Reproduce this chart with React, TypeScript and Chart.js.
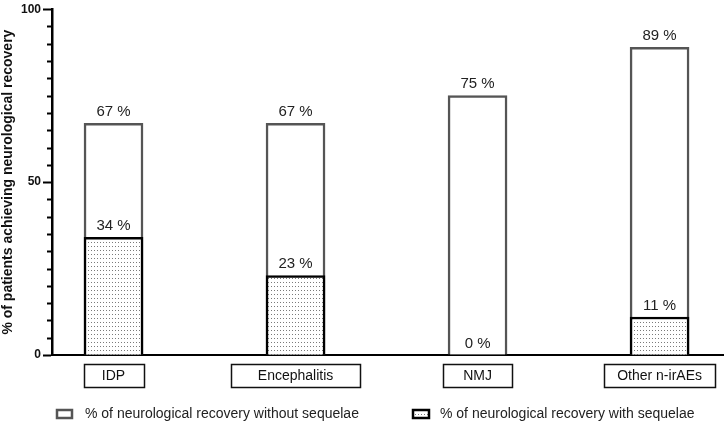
import React, { useEffect, useRef } from "react";
import { Chart, registerables } from "chart.js";

Chart.register(...registerables);

const categories = ["IDP", "Encephalitis", "NMJ", "Other n-irAEs"];
const recoveryTotal = [67, 67, 75, 89];
const recoveryWithSequelae = [34, 23, 0, 11];
const yTickLabels = [0, 50, 100];
const legendLabels = [
  "% of neurological recovery without sequelae",
  "% of neurological recovery with sequelae",
];
const yTitle = "% of patients achieving neurological recovery";

// styling constants
const FONT = "'Liberation Sans', Arial, sans-serif";
const categoryBoxWidths = [60, 129, 69, 111];
const legendItemX = [57, 413];

function makeDotPattern(ctx: CanvasRenderingContext2D) {
  const c = document.createElement("canvas");
  c.width = 3;
  c.height = 4;
  const g = c.getContext("2d")!;
  g.fillStyle = "#ffffff";
  g.fillRect(0, 0, 3, 4);
  g.fillStyle = "#7a7a7a";
  g.fillRect(1, 2, 1, 1);
  return ctx.createPattern(c, "repeat")!;
}

export default function App() {
  const ref = useRef<HTMLCanvasElement | null>(null);

  useEffect(() => {
    const canvas = ref.current!;
    const ctx = canvas.getContext("2d")!;
    const dots = makeDotPattern(ctx);

    const overlayPlugin = {
      id: "overlay",
      afterDatasetsDraw(chart: any) {
        const c = chart.ctx as CanvasRenderingContext2D;
        const xs = chart.scales.x;
        const ys = chart.scales.y;
        const area = chart.chartArea;
        c.save();
        // minor ticks
        c.strokeStyle = "#000";
        c.lineWidth = 2;
        for (let v = 0; v <= 100; v += 5) {
          if (yTickLabels.includes(v)) continue;
          const y = Math.round(ys.getPixelForValue(v)) + 0.5;
          c.beginPath();
          c.moveTo(area.left - 5, y);
          c.lineTo(area.left, y);
          c.stroke();
        }
        // value labels
        c.font = `15px ${FONT}`;
        c.fillStyle = "#222";
        c.textAlign = "center";
        c.textBaseline = "bottom";
        categories.forEach((_, i) => {
          const x = xs.getPixelForValue(i);
          c.fillText(`${recoveryTotal[i]} %`, x, ys.getPixelForValue(recoveryTotal[i]) - 4);
          c.fillText(
            `${recoveryWithSequelae[i]} %`,
            x,
            ys.getPixelForValue(recoveryWithSequelae[i]) - 4
          );
        });
        // category boxes
        c.font = `14px ${FONT}`;
        c.textBaseline = "middle";
        c.fillStyle = "#111";
        c.strokeStyle = "#111";
        c.lineWidth = 1.5;
        categories.forEach((cat, i) => {
          const x = xs.getPixelForValue(i);
          const w = categoryBoxWidths[i];
          const top = area.bottom + 9.5;
          c.strokeRect(Math.round(x - w / 2) + 0.5, top, w, 23);
          c.fillText(cat, x, top + 12);
        });
        // legend
        const ly = area.bottom + 59;
        c.textAlign = "left";
        legendLabels.forEach((lab, i) => {
          const lx = legendItemX[i];
          if (i === 0) {
            c.fillStyle = "#fff";
            c.fillRect(lx, ly - 4, 15, 8);
            c.strokeStyle = "#555";
            c.lineWidth = 2.5;
            c.strokeRect(lx, ly - 4, 15, 8);
          } else {
            c.fillStyle = dots;
            c.fillRect(lx, ly - 4, 16, 8);
            c.strokeStyle = "#000";
            c.lineWidth = 2.5;
            c.strokeRect(lx, ly - 4, 16, 8);
          }
          c.fillStyle = "#222";
          c.fillText(lab, lx + (i === 0 ? 28 : 27), ly);
        });
        c.restore();
      },
    };

    const chart = new Chart(ctx, {
      type: "bar",
      data: {
        datasets: [
          {
            label: legendLabels[1],
            data: recoveryWithSequelae.map((v, i) => ({ x: i, y: v })),
            backgroundColor: dots,
            borderColor: "#000",
            borderWidth: 2.5,
            grouped: false,
            barThickness: 59,
          } as any,
          {
            label: legendLabels[0],
            data: recoveryTotal.map((v, i) => ({ x: i, y: v })),
            backgroundColor: "#fff",
            borderColor: "#555",
            borderWidth: 2.5,
            grouped: false,
            barThickness: 59,
          } as any,
        ],
      },
      options: {
        animation: false,
        responsive: false,
        maintainAspectRatio: false,
        layout: { padding: { top: 7, right: 0, left: 0, bottom: 0 } },
        plugins: { legend: { display: false }, tooltip: { enabled: false } },
        scales: {
          x: {
            type: "linear",
            offset: false,
            min: -0.338,
            max: 3.354,
            grid: { display: false, offset: false },
            ticks: { display: false },
            border: { display: true, color: "#000", width: 2 },
            afterFit: (s: any) => {
              s.height = 69;
            },
          },
          y: {
            min: 0,
            max: 100,
            ticks: {
              stepSize: 5,
              autoSkip: false,
              padding: 2,
              color: "#111",
              font: { family: FONT, size: 12, weight: "bold" },
              callback: (v: any) => (yTickLabels.includes(Number(v)) ? String(v) : ""),
            },
            grid: {
              drawOnChartArea: false,
              tickLength: 9,
              tickWidth: 2,
              tickColor: (c: any) =>
                yTickLabels.includes(c.tick?.value) ? "#000" : "rgba(0,0,0,0)",
            },
            border: { display: true, color: "#000", width: 2.5 },
            title: {
              display: true,
              text: yTitle,
              color: "#111",
              font: { family: FONT, size: 14, weight: "bold" },
              padding: { top: 0, bottom: 0 },
            },
            afterFit: (s: any) => {
              s.width = 52;
            },
          },
        },
      },
      plugins: [overlayPlugin],
    } as any);

    return () => chart.destroy();
  }, []);

  return (
    <div style={{ position: "fixed", left: 0, top: 0, width: 724, height: 424, background: "#fff" }}>
      <canvas ref={ref} width={724} height={424} style={{ display: "block" }} />
    </div>
  );
}
